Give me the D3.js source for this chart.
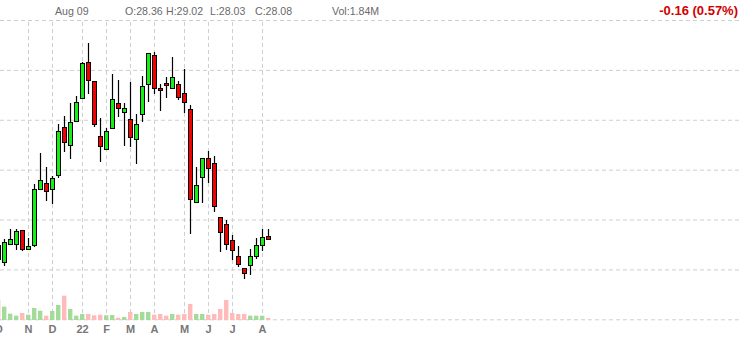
<!DOCTYPE html>
<html>
<head>
<meta charset="utf-8">
<script src="https://cdn.jsdelivr.net/npm/d3@7"></script>
<style>
  body { margin: 0; background: #fff; }
  svg { display: block; font-family: "Liberation Sans", Arial, sans-serif; }
  .grid line { stroke: #cfcfcf; stroke-dasharray: 4,3; }
  .grid path { display: none; }
</style>
</head>
<body>
<script>
      const width = 741;
      const height = 340;

      // weekly candles, week ending friday
      const weeks = ["2021-10-01","2021-10-08","2021-10-15","2021-10-22","2021-10-29",
        "2021-11-05","2021-11-12","2021-11-19","2021-11-26",
        "2021-12-03","2021-12-10","2021-12-17","2021-12-24","2021-12-31",
        "2022-01-07","2022-01-14","2022-01-21","2022-01-28",
        "2022-02-04","2022-02-11","2022-02-18","2022-02-25",
        "2022-03-04","2022-03-11","2022-03-18","2022-03-25",
        "2022-04-01","2022-04-08","2022-04-15","2022-04-22","2022-04-29",
        "2022-05-06","2022-05-13","2022-05-20","2022-05-27",
        "2022-06-03","2022-06-10","2022-06-17","2022-06-24",
        "2022-07-01","2022-07-08","2022-07-15","2022-07-22","2022-07-29",
        "2022-08-05","2022-08-12"];
      const open = [27.43, 25.70, 27.50, 27.50, 28.91, 27.00, 27.40, 33.02, 33.62, 33.02, 34.42, 39.24, 37.43, 39.84, 42.15, 45.76, 43.85, 38.34, 37.03, 39.14, 41.65, 40.74, 40.04, 38.03, 40.54, 43.55, 46.46, 43.15, 43.65, 43.15, 43.55, 42.65, 41.04, 31.72, 34.22, 36.13, 35.63, 30.21, 29.51, 27.90, 26.30, 25.10, 25.40, 26.30, 27.40, 28.36];
      const high = [27.63, 28.03, 29.04, 29.04, 28.99, 28.10, 33.55, 36.63, 35.26, 34.35, 39.54, 40.34, 41.65, 42.35, 45.76, 47.66, 43.88, 40.14, 39.14, 44.55, 43.95, 41.65, 43.75, 40.54, 44.35, 46.66, 46.76, 43.55, 44.25, 46.26, 43.85, 45.06, 41.44, 35.23, 36.16, 36.83, 36.33, 30.21, 29.91, 28.41, 27.30, 25.10, 27.00, 28.10, 29.01, 29.02];
      const low = [25.83, 25.36, 27.43, 26.93, 26.80, 26.90, 27.20, 33.02, 31.88, 31.57, 34.12, 36.73, 36.09, 39.74, 42.15, 42.55, 39.24, 35.73, 36.93, 39.14, 40.30, 37.39, 37.23, 35.53, 39.74, 41.75, 42.55, 40.84, 42.15, 43.15, 41.95, 40.64, 28.54, 31.72, 31.62, 33.62, 30.71, 26.76, 26.90, 25.90, 25.20, 23.99, 24.49, 26.00, 26.80, 28.03];
      const close = [26.03, 27.70, 28.00, 28.81, 27.00, 27.30, 33.02, 33.92, 32.82, 34.12, 38.84, 37.73, 39.74, 41.75, 45.66, 43.95, 39.54, 37.33, 38.84, 42.05, 41.14, 41.14, 38.23, 39.54, 43.35, 46.66, 43.15, 42.95, 43.45, 44.25, 42.25, 41.75, 32.02, 33.42, 36.13, 35.13, 31.31, 28.71, 27.50, 26.90, 25.50, 24.69, 26.30, 27.40, 28.24, 28.08];
      // volume in millions
      const volume = [18, 12, 5.7, 3.9, 6.3, 4.8, 10.8, 8.4, 3.9, 8.1, 13.5, 21.9, 9.9, 3.9, 5.4, 5.4, 4.2, 4.8, 4.2, 4.5, 2.1, 2.7, 7.2, 5.4, 7.2, 7.2, 4.8, 5.4, 3.9, 5.4, 4.8, 5.4, 14.4, 5.4, 5.4, 4.8, 5.4, 9.9, 18, 6.3, 5.4, 5.4, 3.9, 3.9, 3.9, 1.84];

      const monthLabels = ["O", "N", "D", "22", "F", "M", "A", "M", "J", "J", "A"];
      const priceTicks = [20, 25, 30, 35, 40, 45, 50];
      const lastDay = "Aug 09";

      const parse = d3.timeParse("%Y-%m-%d");
      const data = weeks.map((w, i) => ({
        date: parse(w),
        open: open[i],
        high: high[i],
        low: low[i],
        close: close[i],
        volume: volume[i],
      }));

      const x = d3
        .scaleTime()
        .domain([data[0].date, data[data.length - 1].date])
        .range([-2, 268]);

      const y = d3.scaleLinear().domain([20, 50]).range([319.3, 20]);

      const v = d3.scaleLinear().domain([0, 27]).range([320, 290]);

      // first candle of each month carries the month tick
      const monthDates = data
        .filter((d, i) => i == 0 || d.date.getMonth() != data[i - 1].date.getMonth())
        .map((d) => d.date);

      const svg = d3
        .select("body")
        .append("svg")
        .attr("width", width)
        .attr("height", height);

      svg
        .append("g")
        .attr("class", "grid")
        .call(d3.axisRight(y).tickValues(priceTicks).tickSize(width).tickFormat(""));

      svg
        .append("g")
        .attr("class", "grid")
        .attr("transform", "translate(0,320)")
        .call(d3.axisTop(x).tickValues(monthDates).tickSize(300).tickFormat(""));

      const monthAxis = svg
        .append("g")
        .attr("transform", "translate(0,322)")
        .call(
          d3
            .axisBottom(x)
            .tickValues(monthDates)
            .tickSize(0)
            .tickFormat((d, i) => monthLabels[i])
        );
      monthAxis.select(".domain").remove();
      monthAxis
        .selectAll("text")
        .attr("fill", "#777")
        .attr("font-size", "11px")
        .attr("font-weight", "bold")
        .attr("font-family", "Liberation Sans, Arial, sans-serif");

      // volume
      svg
        .append("g")
        .selectAll("rect")
        .data(data)
        .enter()
        .append("rect")
        .attr("x", (d) => Math.round(x(d.date)) - 2)
        .attr("width", 4.4)
        .attr("y", (d) => v(d.volume))
        .attr("height", (d) => v(0) - v(d.volume))
        .attr("fill", (d) => (d.close >= d.open ? "#a3dc98" : "#ffbaba"));

      // candles
      const candle = svg
        .append("g")
        .selectAll("g")
        .data(data)
        .enter()
        .append("g");

      candle
        .append("line")
        .attr("x1", (d) => Math.round(x(d.date)) + 0.5)
        .attr("x2", (d) => Math.round(x(d.date)) + 0.5)
        .attr("y1", (d) => Math.round(y(d.high)))
        .attr("y2", (d) => Math.round(y(d.low)))
        .attr("stroke", "black")
        .attr("stroke-width", 1.2);

      candle
        .append("rect")
        .attr("x", (d) => Math.round(x(d.date)) - 1.5)
        .attr("width", 4)
        .attr("y", (d) => Math.round(y(Math.max(d.open, d.close))) + 0.5)
        .attr("height", (d) =>
          Math.max(1, Math.round(y(Math.min(d.open, d.close))) - Math.round(y(Math.max(d.open, d.close))))
        )
        .attr("fill", (d) => (d.close >= d.open ? "#14f014" : "#f40000"))
        .attr("stroke", "black")
        .attr("stroke-width", 1);

      // header
      const last = data[data.length - 1];
      const prev = data[data.length - 2];
      const change = last.close - prev.close;

      const header = svg
        .append("g")
        .attr("fill", "#6a6a6a")
        .attr("font-size", "10.6px");

      header.append("text").attr("x", 55).attr("y", 15).text(lastDay);
      header.append("text").attr("x", 125).attr("y", 15).text("O:" + last.open.toFixed(2));
      header.append("text").attr("x", 166).attr("y", 15).text("H:" + last.high.toFixed(2));
      header.append("text").attr("x", 210).attr("y", 15).text("L:" + last.low.toFixed(2));
      header.append("text").attr("x", 255).attr("y", 15).text("C:" + last.close.toFixed(2));
      header
        .append("text")
        .attr("x", 332)
        .attr("y", 15)
        .text("Vol:" + last.volume.toFixed(2) + "M");

      svg
        .append("text")
        .attr("x", 738)
        .attr("y", 15)
        .attr("text-anchor", "end")
        .attr("fill", "#d40000")
        .attr("font-size", "13px")
        .attr("font-weight", "bold")
        .text(
          change.toFixed(2) + " (" + Math.abs((change / prev.close) * 100).toFixed(2) + "%)"
        );
</script>
</body>
</html>
